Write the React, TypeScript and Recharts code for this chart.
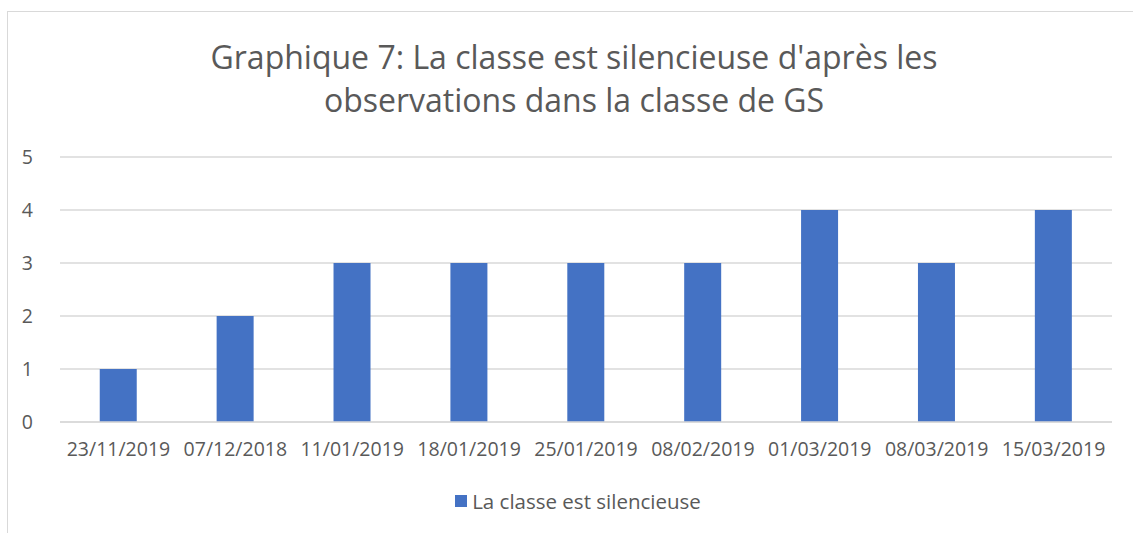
import React from "react";
import { BarChart, Bar, XAxis, YAxis, CartesianGrid } from "recharts";

const TITLE_LINES = ["Graphique 7: La classe est silencieuse d'après les", "observations dans la classe de GS"];
const SERIES_NAME = "La classe est silencieuse";
const dates = [
  "23/11/2019",
  "07/12/2018",
  "11/01/2019",
  "18/01/2019",
  "25/01/2019",
  "08/02/2019",
  "01/03/2019",
  "08/03/2019",
  "15/03/2019",
];
const values = [1, 2, 3, 3, 3, 3, 4, 3, 4];
const yTicks = [0, 1, 2, 3, 4, 5];

const BLUE = "#4472C4";
const TEXT = "#595959";
const GRID = "#d9d9d9";
const FONT = "'Open Sans', sans-serif";

const data = dates.map((d, i) => ({ date: d, value: values[i] }));

export default function App() {
  return (
    <div style={{ position: "fixed", left: 0, top: 0, width: 1133, height: 533, background: "#fff", fontFamily: FONT, overflow: "hidden" }}>
      <div
        style={{
          position: "absolute",
          left: 7,
          top: 11,
          width: 1200,
          height: 600,
          borderLeft: `1px solid ${GRID}`,
          borderTop: `1px solid ${GRID}`,
        }}
      />
      <div
        style={{
          position: "absolute",
          left: 7,
          top: 35,
          width: 1134,
          textAlign: "center",
          color: TEXT,
          fontSize: 32,
          lineHeight: "43px",
        }}
      >
        {TITLE_LINES.map((l) => (
          <div key={l}>{l}</div>
        ))}
      </div>
      <div style={{ position: "absolute", left: 0, top: 0 }}>
        <BarChart width={1133} height={533} data={data} margin={{ top: 157, right: 21, bottom: 81, left: 0 }} barCategoryGap="34%">
          <CartesianGrid vertical={false} stroke={GRID} strokeWidth={1.5} />
          <XAxis
            dataKey="date"
            height={30}
            tickLine={false}
            tickSize={0}
            tickMargin={20}
            axisLine={{ stroke: GRID, strokeWidth: 1.5 }}
            interval={0}
            tick={{ fill: TEXT, fontSize: 19.5, fontFamily: FONT }}
          />
          <YAxis
            domain={[0, 5]}
            ticks={yTicks}
            width={60}
            tickLine={false}
            tickSize={0}
            tickMargin={27}
            axisLine={false}
            tick={{ fill: TEXT, fontSize: 19.5, fontFamily: FONT }}
          />
          <Bar dataKey="value" name={SERIES_NAME} fill={BLUE} isAnimationActive={false} />
        </BarChart>
      </div>
      <div
        style={{
          position: "absolute",
          left: 7,
          top: 488,
          width: 1142,
          display: "flex",
          justifyContent: "center",
          alignItems: "center",
          color: TEXT,
          fontSize: 20.5,
          lineHeight: "26px",
        }}
      >
        <span style={{ display: "inline-block", width: 12, height: 12, background: BLUE, marginRight: 5 }} />
        <span>{SERIES_NAME}</span>
      </div>
    </div>
  );
}
